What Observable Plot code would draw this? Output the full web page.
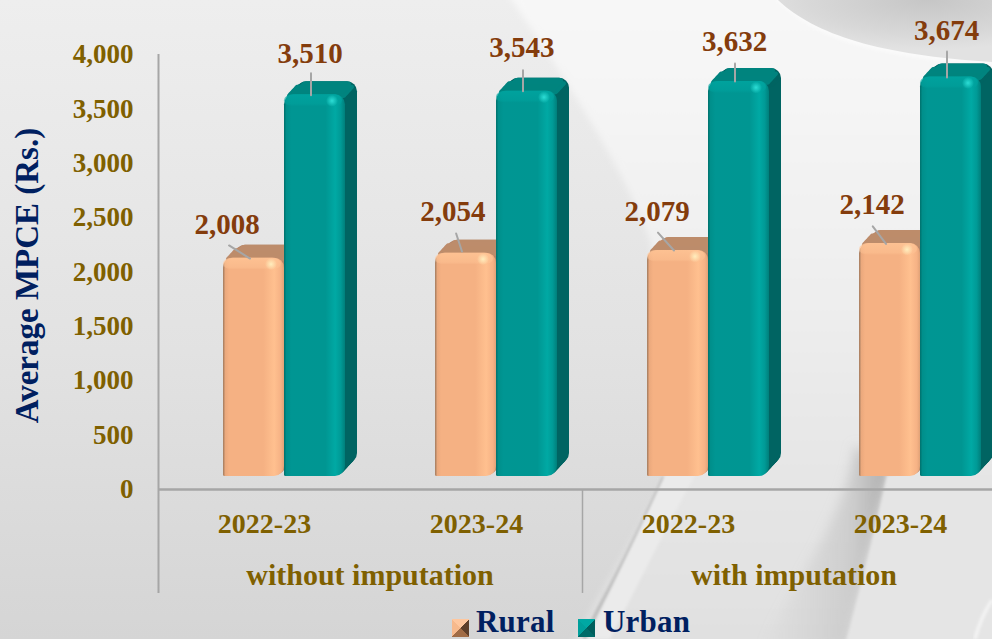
<!DOCTYPE html>
<html>
<head>
<meta charset="utf-8">
<script src="https://cdn.jsdelivr.net/npm/d3@7"></script>
<script src="https://cdn.jsdelivr.net/npm/@observablehq/plot@0.6"></script>
<style>
html,body{margin:0;padding:0;width:992px;height:639px;overflow:hidden;background:#e6e6e6;}
#wrap{position:relative;width:992px;height:639px;overflow:hidden;font-family:"Liberation Serif",serif;}
#bg{position:absolute;left:0;top:0;}
#chart{position:absolute;left:0;top:0;}
#chart svg{background:transparent;display:block;}
#legend{position:absolute;left:0;top:0;width:992px;height:639px;pointer-events:none;}
.sw{position:absolute;top:619px;width:17px;height:18px;}
.lb{position:absolute;top:604.5px;font-size:31px;font-weight:bold;color:#002060;line-height:34px;height:34px;letter-spacing:.2px;}
</style>
</head>
<body>
<div id="wrap">
<svg id="bg" width="992" height="639" viewBox="0 0 992 639">
  <defs>
    <linearGradient id="base" x1="0" y1="0" x2="0" y2="1">
      <stop offset="0" stop-color="#eeeeee"/><stop offset=".55" stop-color="#e2e2e2"/><stop offset="1" stop-color="#d5d5d5"/>
    </linearGradient>
    <linearGradient id="band" x1="0" y1="0" x2="0" y2="1">
      <stop offset="0" stop-color="#f8f8f8"/><stop offset=".4" stop-color="#f0f0f0"/><stop offset=".62" stop-color="#e9e9e9"/><stop offset=".8" stop-color="#e4e4e4"/><stop offset="1" stop-color="#e0e0e0"/>
    </linearGradient>
    <radialGradient id="dome" cx=".7" cy="0" r=".8">
      <stop offset="0" stop-color="#c6c6c6"/><stop offset=".7" stop-color="#d8d8d8"/><stop offset="1" stop-color="#e2e2e2"/>
    </radialGradient>
    <linearGradient id="shadeA" x1="0" y1="0" x2="1" y2="0">
      <stop offset="0" stop-color="#c0c0c0" stop-opacity="0"/><stop offset=".7" stop-color="#b8b8b8" stop-opacity=".5"/><stop offset="1" stop-color="#9c9c9c" stop-opacity=".85"/>
    </linearGradient>
    <filter id="soft"><feGaussianBlur stdDeviation="1.5"/></filter>
    <filter id="mid" x="-10%" y="-10%" width="120%" height="120%"><feGaussianBlur stdDeviation="3"/></filter>
    <filter id="softer" x="-20%" y="-20%" width="140%" height="140%"><feGaussianBlur stdDeviation="6"/></filter>
  </defs>
  <rect width="992" height="639" fill="url(#base)"/>
  <path d="M505,-10 C560,70 620,160 650,240 C665,330 668,430 668,470 C640,530 600,590 570,650 L1010,650 L1010,-10 Z" fill="url(#band)" filter="url(#mid)"/>
  <path d="M664,477 C640,530 620,570 597,612 L584,639" fill="none" stroke="#bdbdbd" stroke-width="4" filter="url(#soft)"/>
  <path d="M665,475 C640,530 610,590 588,639 L610,639 C635,590 665,530 695,475 Z" fill="#ebebeb" filter="url(#soft)"/>
  <path d="M775,-5 C810,35 870,55 1000,64 L1000,-5 Z" fill="#fafafa" stroke="#fafafa" stroke-width="5" filter="url(#soft)"/>
  <path d="M778,0 C815,35 880,55 992,62 L992,0 Z" fill="url(#dome)"/>
  <path d="M847,650 C860,590 875,530 890,470 L855,445 C845,520 790,590 760,650 Z" fill="url(#shadeA)" filter="url(#softer)"/>
  <path d="M887,475 C875,530 860,590 845,645 L1000,645 L1000,475 Z" fill="#e5e5e5" filter="url(#soft)"/>
  <path d="M975,639 C980,620 988,606 992,600" fill="none" stroke="#f6f6f6" stroke-width="3" filter="url(#soft)"/>
</svg>
<div id="chart"></div>
<div id="legend">
  <div class="sw" style="left:452px;background:conic-gradient(from -45deg,#ffc79e 0 90deg,#5e3f2a 90deg 180deg,#a06b45 180deg 270deg,#f7b98c 270deg 360deg);"></div>
  <div class="lb" style="left:476px;">Rural</div>
  <div class="sw" style="left:578px;background:conic-gradient(from -45deg,#00a8a3 0 90deg,#005e5c 90deg 180deg,#006b68 180deg 270deg,#009f9b 270deg 360deg);"></div>
  <div class="lb" style="left:603px;">Urban</div>
</div>
</div>
<script>
const periods = ["w/o 2022-23", "w/o 2023-24", "with 2022-23", "with 2023-24"];
const periodLabels = ["2022-23", "2023-24", "2022-23", "2023-24"];
const seriesNames = ["Rural", "Urban"];
const ruralValues = [2008, 2054, 2079, 2142];
const urbanValues = [3510, 3543, 3632, 3674];
const yTicks = [0, 500, 1000, 1500, 2000, 2500, 3000, 3500, 4000];
const groupNames = ["without imputation", "with imputation"];
const groupFirstPeriods = [periods[0], periods[2]];
const yTitle = "Average MPCE (Rs.)";

// Label placement, as pixel nudges away from each bar's anchor
const ruralLabelNudge = [[-26.5,-46.6],[-12.75,-54.6],[-20.3,-52],[-17.5,-52]];
const urbanLabelNudge = [[-4.5,-54],[-4.75,-56],[-4,-53],[-4,-59.5]];
const ruralLeader = [[-58,24.7,-12.6],[-18,19,-14.6],[-42,24,-12.9],[-37,22,-12.7]];
const urbanLeader = [[0,22,-12.5],[0,21,-13],[0,18,-13],[0,26,-12.5]];

const rows = s => (s === "Rural" ? ruralValues : urbanValues).map((value, i) => ({period: periods[i], series: s, value}));
const fmt = d3.format(",");
const olive = "#7f6000", brown = "#843c0c", navy = "#002060", grey = "#a6a6a6";
const DEPTH = 12, RISE = 13 / 12, BASE = -13;
const look = {
  Rural: {side: "#b5866a", top: "#bd8c6b", front: "url(#frontR)", foot: "url(#footR)", rim: "url(#rimR)", spot: "url(#spotR)"},
  Urban: {side: "#006462", top: "#00847f", front: "url(#frontU)", foot: "url(#footU)", rim: "url(#rimU)", spot: "url(#spotU)"}
};
const defs = () => {
  const g = document.createElementNS("http://www.w3.org/2000/svg", "g");
  const grad = (id, stops) => `<linearGradient id="${id}" x1="0" x2="1" y1="0" y2="0">` + stops.map(([o,c]) => `<stop offset="${o}" stop-color="${c}"/>`).join("") + `</linearGradient>`;
  const rim = (id, c) => `<linearGradient id="${id}" x1="0" x2="0" y1="0" y2="1"><stop offset="0" stop-color="${c}" stop-opacity=".8"/><stop offset=".8" stop-color="${c}" stop-opacity=".45"/><stop offset="1" stop-color="${c}" stop-opacity="0"/></linearGradient>`;
  const spot = (id, c) => `<radialGradient id="${id}"><stop offset="0" stop-color="${c}" stop-opacity=".95"/><stop offset="1" stop-color="${c}" stop-opacity="0"/></radialGradient>`;
  g.innerHTML = `<defs>` +
    grad("frontU", [[0,"#00706c"],[.04,"#008f8b"],[.12,"#009693"],[.68,"#009692"],[.84,"#00a9a4"],[.93,"#009a96"],[1,"#007f7b"]]) +
    grad("frontR", [[0,"#a07a5e"],[.04,"#eba97d"],[.1,"#f5b183"],[.66,"#f5b183"],[.84,"#ffc08f"],[.95,"#f6b285"],[1,"#e0a277"]]) +
    grad("footU", [[0,"#00706c"],[.116,"#008f8b"],[.35,"#009693"],[1,"#009692"]]) +
    grad("footR", [[0,"#a07a5e"],[.116,"#eba97d"],[.29,"#f5b183"],[1,"#f5b183"]]) +
    rim("rimU", "#00a5a0") + rim("rimR", "#ffc596") +
    spot("spotU", "#2fe0d8") + spot("spotR", "#fff0c0") +
    `</defs>`;
  return g;
};

const common = {x: "series", y: "value", fx: "period"};
function barMarks(s) {
  const data = rows(s), c = look[s], marks = [];
  // extruded depth, back to front
  for (let i = DEPTH; i >= 1; i--) {
    marks.push(Plot.barY(data, {...common, fill: c.side, rx: 10, dx: i, dy: BASE - i * RISE}));
  }
  // top face
  for (let i = DEPTH; i >= 1; i--) {
    marks.push(Plot.barY(data, {x: "series", fx: "period", y1: d => d.value - 45, y2: "value", fill: c.top, rx: 4,
      insetLeft: i > DEPTH - 3 ? 6 : 2, insetRight: i > DEPTH - 3 ? 6 : 0, dx: i, dy: BASE - i * RISE}));
  }
  // front face
  marks.push(Plot.barY(data, {...common, fill: c.front, rx: 10, dy: BASE}));
  // squarer bottom-left corner of the front face
  marks.push(Plot.barY(data, {x: "series", fx: "period", y1: 0, y2: 120, fill: c.foot, rx: 1.5, insetRight: 40, dy: BASE}));
  // soft rim under the top edge and corner highlight
  marks.push(Plot.barY(data, {x: "series", fx: "period", y1: d => d.value - 110, y2: "value", fill: c.rim, rx: 9, insetRight: 3, dy: BASE}));
  marks.push(Plot.dot(data, {x: "series", y: "value", fx: "period", r: 6, fill: c.spot, dx: 17, dy: BASE + 6}));
  return marks;
}
function labelMarks(s, nudge, leader) {
  return rows(s).flatMap((d, i) => [
    Plot.vector([d], {x: "series", y: "value", fx: "period", length: leader[i][1], rotate: leader[i][0], anchor: "start",
      stroke: grey, strokeWidth: 2, dx: -4, dy: leader[i][2],
      shape: {draw(ctx, l) { ctx.moveTo(0, 0); ctx.lineTo(0, -l); }}}),
    Plot.text([d], {x: "series", y: "value", fx: "period", text: v => fmt(v.value), fill: brown, fontSize: 29, fontWeight: "bold",
      dx: nudge[i][0] - 0.5, dy: nudge[i][1]})
  ]);
}

const plot = Plot.plot({
  width: 992, height: 639,
  marginLeft: 158, marginRight: -15, marginTop: 54, marginBottom: 150,
  style: {fontFamily: '"Liberation Serif", serif', background: "transparent", overflow: "hidden"},
  fx: {domain: periods, range: [158, 1007], padding: 0, label: null},
  x: {domain: seriesNames, range: [222, 344], padding: 0, label: null, axis: null},
  y: {domain: [0, 4000], range: [489, 54], label: null},
  marks: [
    defs,
    Plot.ruleY([0], {stroke: grey, strokeWidth: 2.5}),
    Plot.ruleX(["Rural"], {x: d => d, y1: [-956], y2: [4000], fx: () => periods[0], stroke: grey, strokeWidth: 2, dx: -95.5}),
    Plot.ruleX(["Rural"], {x: d => d, y1: [0], y2: [-956], fx: () => periods[2], stroke: grey, strokeWidth: 1.5, dx: -95.5}),
    Plot.axisY({ticks: yTicks, tickFormat: fmt, tickSize: 0, tickPadding: 26, label: null, fontSize: 27, fontWeight: "bold", fill: olive}),
    Plot.axisFx({anchor: "bottom", tickSize: 0, tickPadding: 24, label: null, fontSize: 28, fontWeight: "bold", fill: olive, dx: -1,
      tickFormat: p => periodLabels[periods.indexOf(p)]}),
    Plot.text([yTitle], {fx: () => periods[0], y: [1968], text: d => d, rotate: -90, fill: navy, fontSize: 33, fontWeight: "bold", dx: -238}),
    Plot.text(groupNames, {fx: (d, i) => groupFirstPeriods[i], y: [-791, -791], text: d => d, fill: olive, fontSize: 30, fontWeight: "bold", dx: 104.5, letterSpacing: 0.5}),
    ...barMarks("Rural"),
    ...barMarks("Urban"),
    ...labelMarks("Rural", ruralLabelNudge, ruralLeader),
    ...labelMarks("Urban", urbanLabelNudge, urbanLeader)
  ]
});
document.getElementById("chart").appendChild(plot);
</script>
</body>
</html>
